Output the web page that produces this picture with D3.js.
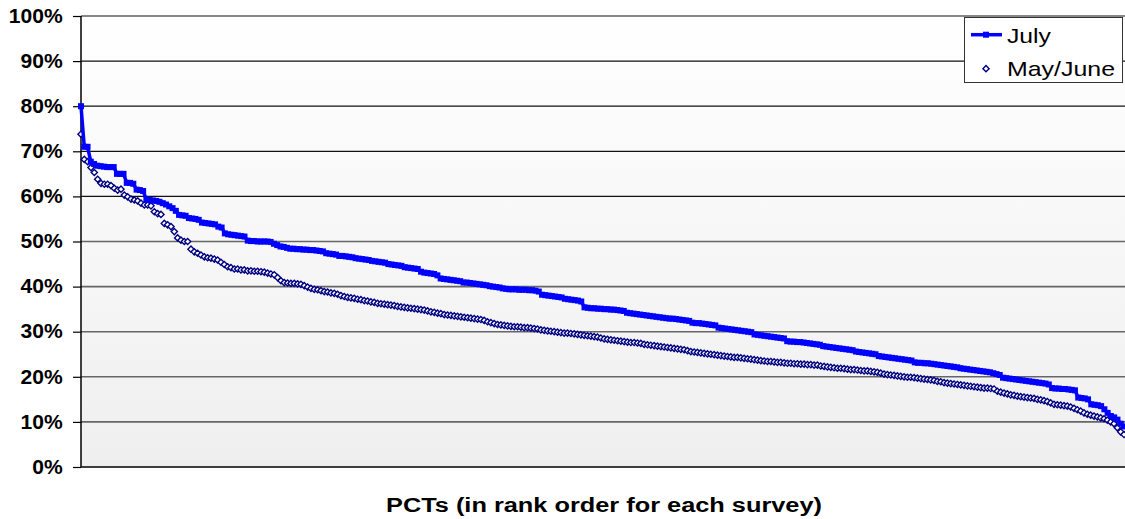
<!DOCTYPE html>
<meta charset="utf-8">
<script src="https://d3js.org/d3.v7.min.js"></script>
<style>
  body { margin: 0; background: #fff; }
  text { font-family: Arial, "Liberation Sans", sans-serif; }
</style>
<body>
<script>

// percentages, in rank order for each survey
var julyPct = [
  80, 71, 71, 67.7, 67.2, 66.8, 66.7, 66.6, 66.5, 66.5,
  66.5, 65, 65, 65, 63, 63, 62.8, 61.5, 61.4, 61.2,
  59.3, 59.2, 59.1, 59, 58.8, 58.5, 58.2, 57.8, 57.4, 56.8,
  55.9, 55.8, 55.7, 55.2, 55.1, 55, 54.8, 54.2, 54.1, 54,
  53.9, 53.8, 53.3, 53.1, 51.8, 51.6, 51.5, 51.4, 51.3, 51.2,
  51.1, 50.2, 50.1, 50.1, 50, 50, 50, 50, 49.9, 49.5,
  49.2, 48.9, 48.8, 48.6, 48.4, 48.4, 48.3, 48.3, 48.2, 48.2,
  48.1, 48.1, 48, 47.9, 47.8, 47.4, 47.3, 47.2, 47.1, 46.8,
  46.8, 46.7, 46.6, 46.5, 46.3, 46.2, 46.1, 46, 45.9, 45.7,
  45.6, 45.5, 45.4, 45.3, 45, 44.9, 44.8, 44.7, 44.6, 44.3,
  44.2, 44.1, 44, 43.9, 43.3, 43.1, 43, 42.9, 42.8, 42.5,
  41.8, 41.7, 41.6, 41.5, 41.4, 41.3, 41.2, 40.9, 40.9, 40.8,
  40.7, 40.6, 40.5, 40.4, 40.3, 40.1, 40, 39.9, 39.8, 39.6,
  39.5, 39.4, 39.4, 39.4, 39.3, 39.3, 39.3, 39.2, 39.2, 39.1,
  38.9, 38.2, 38.1, 38, 37.9, 37.8, 37.7, 37.6, 37.3, 37.2,
  37.1, 37, 36.9, 36.7, 35.4, 35.3, 35.2, 35.2, 35.1, 35.1,
  35, 35, 34.9, 34.9, 34.8, 34.7, 34.6, 34.2, 34.1, 34,
  33.9, 33.8, 33.7, 33.6, 33.5, 33.4, 33.3, 33.2, 33.1, 33,
  32.9, 32.9, 32.8, 32.7, 32.6, 32.5, 32.4, 32, 31.9, 31.9,
  31.8, 31.7, 31.6, 31.5, 31.4, 30.9, 30.8, 30.7, 30.6, 30.5,
  30.4, 30.3, 30.2, 30.1, 30, 29.9, 29.4, 29.3, 29.2, 29.1,
  29, 28.9, 28.8, 28.7, 28.6, 28.5, 27.9, 27.8, 27.8, 27.7,
  27.7, 27.6, 27.5, 27.4, 27.3, 27.2, 27.1, 26.8, 26.7, 26.6,
  26.5, 26.4, 26.3, 26.2, 26.1, 26, 25.9, 25.6, 25.5, 25.4,
  25.3, 25.2, 25.1, 25, 24.6, 24.5, 24.4, 24.3, 24.2, 24.1,
  24, 23.9, 23.8, 23.7, 23.6, 23.2, 23.1, 23.1, 23, 23,
  22.9, 22.8, 22.7, 22.6, 22.5, 22.4, 22.3, 22.2, 22.1, 21.9,
  21.8, 21.7, 21.6, 21.5, 21.4, 21.3, 21.2, 21.1, 21, 20.8,
  20.6, 20.4, 19.8, 19.7, 19.6, 19.5, 19.4, 19.3, 19.2, 19.1,
  19, 18.9, 18.8, 18.7, 18.6, 18.5, 18.3, 17.5, 17.4, 17.4,
  17.3, 17.3, 17.2, 17.1, 17, 15.4, 15.3, 15.2, 15, 13.9,
  13.8, 13.7, 13.5, 12.8, 12, 11.3, 11, 10.5, 9.6, 9
];

var mayJunePct = [
  73.8, 68.2, 67.7, 66.4, 65.3, 63.8, 62.9, 62.7, 62.7, 62.4,
  61.8, 61.4, 61.6, 60.3, 59.9, 59.4, 59.2, 59.0, 58.5, 58.1,
  58.1, 57.9, 56.6, 56.2, 56.0, 54.0, 53.7, 53.3, 52.2, 50.8,
  50.3, 50.0, 50.0, 48.3, 47.7, 47.4, 47.0, 46.6, 46.4, 46.3,
  46.1, 45.9, 45.4, 44.9, 44.4, 44.2, 43.9, 43.9, 43.7, 43.7,
  43.5, 43.5, 43.4, 43.4,
  43.3, 43.2, 43.0, 42.8, 42.6, 42.0, 41.3, 40.9, 40.8, 40.7,
  40.7, 40.6, 40.5, 40.2, 39.9, 39.6, 39.4, 39.3, 39.1, 38.9,
  38.8, 38.6, 38.5, 38.3, 38.0, 37.8, 37.6, 37.5, 37.4, 37.2,
  37.1, 36.9, 36.8, 36.6, 36.5, 36.3, 36.2, 36.1, 36.0, 35.9,
  35.8, 35.6, 35.5, 35.4, 35.3, 35.2, 35.1, 35.0, 34.9, 34.8,
  34.6, 34.4, 34.3, 34.1, 34.0, 33.8, 33.7, 33.6, 33.5, 33.4,
  33.3, 33.2, 33.1, 33.0, 32.9, 32.8, 32.7, 32.5, 32.2, 32.0,
  31.8, 31.6, 31.5, 31.4, 31.3, 31.2, 31.1, 31.1, 31.0, 30.9,
  30.9, 30.8, 30.7, 30.6, 30.4, 30.3, 30.2, 30.1, 30.0, 29.9,
  29.8, 29.7, 29.7, 29.6, 29.5, 29.4, 29.3, 29.2, 29.1, 29.0,
  28.9, 28.8, 28.6, 28.4, 28.3, 28.2, 28.1, 28.0, 27.9, 27.8,
  27.7, 27.6, 27.6, 27.5, 27.4, 27.2, 27.1, 27.0, 26.9, 26.8,
  26.7, 26.6, 26.5, 26.4, 26.3, 26.2, 26.1, 26.0, 25.8, 25.6,
  25.5, 25.4, 25.3, 25.2, 25.1, 25.0, 24.9, 24.8, 24.7, 24.6,
  24.5, 24.4, 24.3, 24.3, 24.2, 24.1, 24.0, 23.9, 23.8, 23.7,
  23.6, 23.5, 23.4, 23.4, 23.3, 23.2, 23.2, 23.1, 23.0, 23.0,
  22.9, 22.9, 22.8, 22.8, 22.7, 22.7, 22.6, 22.6, 22.4, 22.3,
  22.2, 22.1, 22.0, 21.9, 21.9, 21.8, 21.7, 21.6, 21.6, 21.5,
  21.4, 21.3, 21.3, 21.2, 21.1, 21.0, 20.8, 20.6, 20.5, 20.4,
  20.3, 20.2, 20.1, 20.0, 19.9, 19.9, 19.8, 19.7, 19.6, 19.5,
  19.4, 19.3, 19.2, 19.0, 18.9, 18.7, 18.6, 18.5, 18.4, 18.3,
  18.2, 18.1, 18.0, 17.9, 17.8, 17.7, 17.6, 17.5, 17.5, 17.4,
  17.3, 16.8, 16.6, 16.4, 16.2, 16.0, 15.9, 15.7, 15.6, 15.5,
  15.4, 15.3, 15.2, 15.0, 14.9, 14.7, 14.5, 14.2, 13.9, 13.8,
  13.7, 13.6, 13.5, 13.3, 13.0, 12.7, 12.4, 12.0, 11.7, 11.5,
  11.3, 11.1, 10.9, 10.7, 10.4, 10.0, 9.6, 8.7, 7.8, 7.2
];

var yTicks = [0, 10, 20, 30, 40, 50, 60, 70, 80, 90, 100];
var seriesNames = ["July", "May/June"];
var xTitle = "PCTs (in rank order for each survey)";

// chart size and plot box
var width = 1125,
    height = 519;
var plotLeft = 81, plotRight = 1124, plotTop = 16, plotBottom = 467;

var svg = d3.select("body").append("svg")
    .attr("width", width)
    .attr("height", height);

// plot area background: white fading to light grey
var grad = svg.append("defs").append("linearGradient")
    .attr("id", "bg")
    .attr("x1", 0).attr("y1", 0).attr("x2", 0).attr("y2", 1);
grad.append("stop").attr("offset", "0%").attr("stop-color", "#ffffff");
grad.append("stop").attr("offset", "100%").attr("stop-color", "#efefef");

svg.append("rect")
    .attr("x", plotLeft).attr("y", plotTop)
    .attr("width", plotRight - plotLeft + 1)
    .attr("height", plotBottom - plotTop)
    .style("fill", "url(#bg)");

var y = d3.scaleLinear().domain([0, 100]).range([plotBottom, plotTop]);

// gridlines
svg.append("g")
    .selectAll("line")
    .data(yTicks.filter(function(t) { return t > 0; }))
    .enter().append("line")
    .attr("x1", plotLeft).attr("x2", width)
    .attr("y1", function(d) { return y(d); })
    .attr("y2", function(d) { return y(d); })
    .style("stroke", function(d) { return d >= 60 ? "#111" : "#666"; })
    .style("stroke-width", function(d) { return d >= 60 ? 1.2 : 1.6; });

// y axis with tick marks and labels
var yAxis = d3.axisLeft(y)
    .tickValues(yTicks)
    .tickSize(8)
    .tickPadding(10)
    .tickFormat(function(d) { return d + "%"; });

var yg = svg.append("g")
    .attr("transform", "translate(" + plotLeft + ",0)")
    .call(yAxis);
yg.select(".domain").remove();
yg.selectAll(".tick line").style("stroke", "#000").style("stroke-width", 1.2);
yg.selectAll(".tick text")
    .attr("x", -17)
    .style("font-size", "19.5px")
    .style("font-weight", "bold")
    .style("fill", "#000")
    .attr("transform", "scale(1.08,1)");

// axis lines
svg.append("line")
    .attr("x1", plotLeft).attr("x2", plotLeft)
    .attr("y1", plotTop).attr("y2", plotBottom)
    .style("stroke", "#000").style("stroke-width", 1.5);
svg.append("line")
    .attr("x1", plotLeft).attr("x2", width)
    .attr("y1", plotBottom).attr("y2", plotBottom)
    .style("stroke", "#000").style("stroke-width", 1.5);

// x scales: each survey spans the full plot width
function xScaleFor(arr) {
    return d3.scaleLinear().domain([0, arr.length - 1]).range([plotLeft, plotRight]);
}
var xJ = xScaleFor(julyPct);
var xM = xScaleFor(mayJunePct);

var diamond = "M0,-3.1L3.1,0L0,3.1L-3.1,0Z";

// May/June: open navy diamonds, no line
svg.append("g")
    .selectAll("path")
    .data(mayJunePct)
    .enter().append("path")
    .attr("d", diamond)
    .attr("transform", function(d, i) { return "translate(" + xM(i) + "," + y(d) + ")"; })
    .style("fill", "#fff")
    .style("stroke", "#000080")
    .style("stroke-width", 1.4);

// July: blue line with square markers
svg.append("path")
    .datum(julyPct)
    .attr("d", d3.line()
        .x(function(d, i) { return xJ(i); })
        .y(function(d) { return y(d); }))
    .style("fill", "none")
    .style("stroke", "#0000ff")
    .style("stroke-width", 3.5);

svg.append("g")
    .selectAll("rect")
    .data(julyPct)
    .enter().append("rect")
    .attr("x", function(d, i) { return xJ(i) - 3; })
    .attr("y", function(d) { return y(d) - 3; })
    .attr("width", 6).attr("height", 6)
    .style("fill", "#0000ff");

// x axis title
svg.append("text")
    .attr("x", 604).attr("y", 512)
    .attr("text-anchor", "middle")
    .attr("textLength", 436)
    .attr("lengthAdjust", "spacingAndGlyphs")
    .style("font-size", "20px")
    .style("font-weight", "bold")
    .text(xTitle);

// legend
var legend = svg.append("g");
legend.append("rect")
    .attr("x", 964.5).attr("y", 17.5)
    .attr("width", 158).attr("height", 65)
    .style("fill", "#fff")
    .style("stroke", "#333")
    .style("stroke-width", 1);

legend.append("line")
    .attr("x1", 971).attr("x2", 1002)
    .attr("y1", 34.7).attr("y2", 34.7)
    .style("stroke", "#0000ff").style("stroke-width", 3.5);
legend.append("rect")
    .attr("x", 983).attr("y", 31.7)
    .attr("width", 6).attr("height", 6)
    .style("fill", "#0000ff");
legend.append("path")
    .attr("d", diamond)
    .attr("transform", "translate(986,68.7)")
    .style("fill", "#fff")
    .style("stroke", "#000080")
    .style("stroke-width", 1.4);

legend.selectAll("text")
    .data(seriesNames)
    .enter().append("text")
    .attr("x", 1007)
    .attr("y", function(d, i) { return i === 0 ? 42.5 : 76; })
    .attr("textLength", function(d, i) { return i === 0 ? 44 : 108; })
    .attr("lengthAdjust", "spacingAndGlyphs")
    .style("font-size", "21px")
    .text(function(d) { return d; });

</script>
</body>
